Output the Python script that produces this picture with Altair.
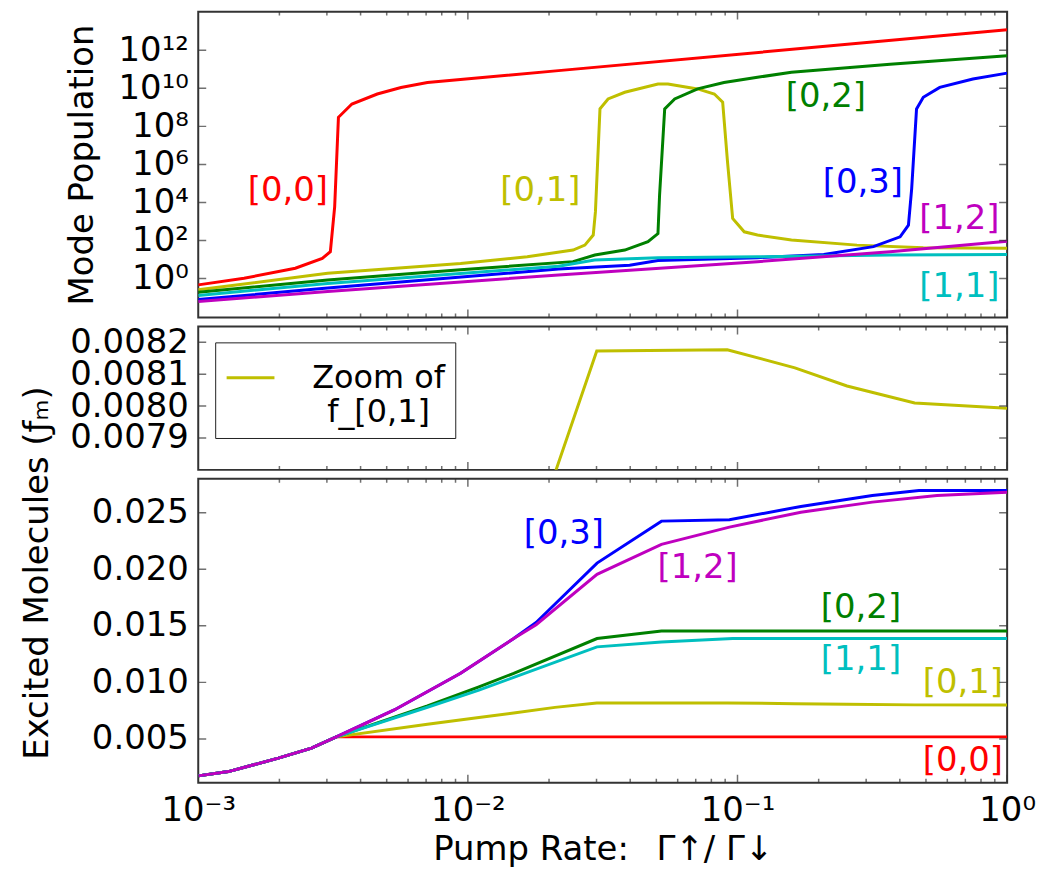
import altair as alt
import pandas as pd

SERIES = ['[0,0]', '[0,1]', '[0,2]', '[0,3]', '[1,1]', '[1,2]']
COLORS = ['#ff0000', '#bfbf00', '#008000', '#0000ff', '#00bfbf', '#bf00bf']

# ---------------- top panel: mode population ----------------
pop00_x = [0.001, 0.001479, 0.002291, 0.002884, 0.00309, 0.003206, 0.003311, 0.003715, 0.004613, 0.005649, 0.007079, 0.02168, 1.0]
pop00_y = [0.47, 1.05, 3.5, 11.5, 26, 5.9e3, 3.0e8, 1.5e9, 5.0e9, 1.1e10, 2.0e10, 8.5e10, 1.2e13]

pop01_x = [0.001, 0.00302, 0.009397, 0.0166, 0.02455, 0.02716, 0.02917, 0.02972, 0.0309, 0.03311, 0.03819, 0.0507,
           0.05521, 0.07112, 0.08204, 0.0881, 0.09183, 0.09594, 0.1059, 0.1186, 0.1585, 0.2773, 0.4887, 1.0]
pop01_y = [0.257, 1.9, 6.3, 14.1, 31.6, 57.5, 195, 3.2e3, 8.3e8, 2.75e9, 6.2e9, 1.7e10,
           1.7e10, 9.3e9, 5.0e9, 1.86e9, 1.35e6, 1.45e3, 288, 195, 107, 57.5, 41.7, 38.9]

pop02_x = [0.001, 0.00302, 0.009397, 0.02455, 0.02958, 0.03819, 0.04656, 0.0507, 0.0514, 0.0537, 0.05848, 0.07112,
           0.0891, 0.1186, 0.1585, 0.3681, 1.0]
pop02_y = [0.19, 0.85, 2.9, 7.8, 17.4, 31.6, 87, 234, 2.4e4, 8.3e8, 2.75e9, 9.3e9,
           2.0e10, 3.8e10, 6.9e10, 1.86e11, 5.1e11]

pop03_x = [0.001, 0.00302, 0.02168, 0.03981, 0.0507, 0.1186, 0.2089, 0.3192, 0.4009, 0.4305, 0.4426, 0.4613,
           0.4887, 0.5623, 0.7464, 1.0]
pop03_y = [0.079, 0.32, 3.2, 5.0, 8.9, 12.6, 18.6, 47.9, 158, 646, 5.4e4, 8.3e8,
           3.4e9, 1.12e10, 3.1e10, 6.3e10]

pop11_x = [0.001, 0.00302, 0.02168, 0.02951, 0.0507, 0.1186, 0.3681, 1.0]
pop11_y = [0.13, 0.56, 4.5, 9.5, 12.6, 14.1, 17.4, 18.6]

pop12_x = [0.001, 0.00302, 0.02168, 0.1186, 0.3681, 1.0]
pop12_y = [0.063, 0.21, 1.55, 7.8, 25.7, 93]

# ---------------- bottom panel: excited molecules ----------------
shared_x = [0.001, 0.001294, 0.001982, 0.00263, 0.003251]
shared_y = [0.00173, 0.00211, 0.0033, 0.00418, 0.00518]

exc00_x = [1.0]
exc00_y = [0.00518]

exc01_x = [0.007079, 0.01099, 0.01479, 0.02104, 0.03006, 0.09162, 0.1633, 0.2547, 0.4539, 1.0]
exc01_y = [0.0063, 0.0069, 0.0073, 0.00779, 0.008173, 0.008177, 0.00812, 0.008063, 0.00801, 0.007993]

exc02_x = [0.007079, 0.01099, 0.01479, 0.03013, 0.05224, 1.0]
exc02_y = [0.00791, 0.00961, 0.0108, 0.01388, 0.01455, 0.01455]

exc03_x = [0.005333, 0.009397, 0.01479, 0.01791, 0.03013, 0.05224, 0.09333, 0.1718, 0.3162, 0.471, 1.0]
exc03_y = [0.00756, 0.0108, 0.01388, 0.0153, 0.02055, 0.02426, 0.02438, 0.02556, 0.02653, 0.02697, 0.02697]

exc11_x = [0.007079, 0.01099, 0.01479, 0.03013, 0.05224, 0.09594, 1.0]
exc11_y = [0.0078, 0.00932, 0.01044, 0.01314, 0.01358, 0.01388, 0.01388]

exc12_x = [0.005333, 0.009397, 0.01479, 0.01791, 0.03013, 0.05224, 0.09333, 0.1718, 0.3162, 0.5495, 1.0]
exc12_y = [0.00756, 0.0108, 0.01388, 0.0151, 0.01956, 0.0222, 0.02373, 0.02505, 0.02594, 0.02653, 0.02682]

# ---------------- annotations ----------------
top_label_x = [0.00215, 0.01858, 0.2128, 0.2917, 0.665, 0.665]
top_label_y = [4.1e4, 4.1e4, 3.4e9, 1.07e5, 1.38e3, 0.34]
top_label_s = ['[0,0]', '[0,1]', '[0,2]', '[0,3]', '[1,2]', '[1,1]']

bot_label_x = [0.0227, 0.0711, 0.287, 0.287, 0.6855, 0.6855]
bot_label_y = [0.02309, 0.02009, 0.0166, 0.01197, 0.00998, 0.003057]
bot_label_s = ['[0,3]', '[1,2]', '[0,2]', '[1,1]', '[0,1]', '[0,0]']

# ---------------- axes ----------------
x_major = [0.001, 0.01, 0.1, 1.0]
x_minor = [2e-3, 3e-3, 4e-3, 5e-3, 6e-3, 7e-3, 8e-3, 9e-3,
           2e-2, 3e-2, 4e-2, 5e-2, 6e-2, 7e-2, 8e-2, 9e-2,
           0.2, 0.3, 0.4, 0.5, 0.6, 0.7, 0.8, 0.9]
top_y_ticks = [1, 1e2, 1e4, 1e6, 1e8, 1e10, 1e12]
mid_y_ticks = [0.0079, 0.0080, 0.0081, 0.0082]
bot_y_ticks = [0.005, 0.010, 0.015, 0.020, 0.025]

W = 812
H_TOP, H_MID, H_BOT = 307, 144, 305
FONT = 'DejaVu Sans'
FS = 34
LW = 3

SUP = str.maketrans('-0123456789', '⁻⁰¹²³⁴⁵⁶⁷⁸⁹')


def pow_label_expr(exps):
    e = "round(log(datum.value)/LN10)"
    parts = [f"{e} == {k} ? '10{str(k).translate(SUP)}'" for k in exps]
    return " : ".join(parts) + " : ''"


def frame(names, xs, ys):
    rows = []
    for n, xv, yv in zip(names, xs, ys):
        for a, b in zip(xv, yv):
            rows.append({'series': n, 'x': a, 'y': b})
    return pd.DataFrame(rows)


xscale = alt.Scale(type='log', domain=[0.001, 1.0], nice=False)
color_scale = alt.Scale(domain=SERIES, range=COLORS)


def panel(layers_spec, xaxis, yscale, yaxis, y_ticks, h):
    out = []
    for ch, xf, yf, extra in layers_spec:
        out.append(ch.encode(x=alt.X(xf, scale=xscale, axis=xaxis),
                             y=alt.Y(yf, scale=yscale, axis=yaxis), **extra))
    # tick marks drawn inside the frame (major and minor on x, major on y)
    xt = pd.DataFrame({'v': x_major + x_minor,
                       'kind': ['major'] * len(x_major) + ['minor'] * len(x_minor)})
    base = alt.Chart(xt).transform_calculate(len="datum.kind == 'major' ? 16 : 8")
    enc = dict(x=alt.X('v:Q', scale=xscale, axis=xaxis),
               size=alt.Size('len:Q', scale=None))
    out.append(base.mark_tick(clip=True, color='#333', thickness=1.5).encode(y=alt.value(h), **enc))
    out.append(base.mark_tick(clip=True, color='#333', thickness=1.5).encode(y=alt.value(0), **enc))
    yt = alt.Chart(pd.DataFrame({'v': y_ticks}))
    yenc = dict(y=alt.Y('v:Q', scale=yscale, axis=yaxis))
    out.append(yt.mark_tick(clip=True, color='#333', thickness=1.5, size=16).encode(x=alt.value(0), **yenc))
    out.append(yt.mark_tick(clip=True, color='#333', thickness=1.5, size=16).encode(x=alt.value(W), **yenc))
    return alt.layer(*out).properties(width=W, height=h)


# ---------------- top panel ----------------
top_df = frame(SERIES, [pop00_x, pop01_x, pop02_x, pop03_x, pop11_x, pop12_x],
               [pop00_y, pop01_y, pop02_y, pop03_y, pop11_y, pop12_y])
top_yscale = alt.Scale(type='log', domain=[0.0091, 1.07e14], nice=False)
top_yaxis = alt.Axis(values=top_y_ticks, labelExpr=pow_label_expr([0, 2, 4, 6, 8, 10, 12]),
                     title='Mode Population', titleX=-116, titleBaseline='middle')
top_lines = alt.Chart(top_df).mark_line(strokeWidth=LW, clip=True)
top_text = alt.Chart(pd.DataFrame({'s': top_label_s, 'x': top_label_x, 'y': top_label_y})).mark_text(
    font=FONT, fontSize=FS, align='center', baseline='middle')
top = panel([
    (top_lines, 'x:Q', 'y:Q', dict(color=alt.Color('series:N', scale=color_scale, legend=None), detail='series:N')),
    (top_text, 'x:Q', 'y:Q', dict(text='s:N', color=alt.Color('s:N', scale=color_scale, legend=None))),
], None, top_yscale, top_yaxis, top_y_ticks, H_TOP)

# ---------------- middle panel ----------------
mid_yscale = alt.Scale(domain=[0.0078, 0.00825], nice=False, zero=False)
mid_yaxis = alt.Axis(values=mid_y_ticks, format='.4f', title=None)
mid_df = pd.DataFrame({'x': shared_x + exc01_x, 'y': shared_y + exc01_y,
                       'name': ['Zoom of f_[0,1]'] * (len(shared_x) + len(exc01_x))})
mid_line = alt.Chart(mid_df).mark_line(strokeWidth=LW, clip=True)
mid_color = alt.Color('name:N', scale=alt.Scale(domain=['Zoom of f_[0,1]'], range=['#bfbf00']),
                      legend=alt.Legend(title=None, orient='none', legendX=17, legendY=16,
                                        strokeColor='#222', fillColor='white', padding=10,
                                        symbolType='stroke', symbolSize=2304, symbolStrokeWidth=3,
                                        labelFontSize=32, labelFont=FONT, labelColor='black',
                                        labelLimit=0, labelOffset=103, labelAlign='center',
                                        labelExpr="['Zoom of', 'f_[0,1]']"))
mid = panel([(mid_line, 'x:Q', 'y:Q', dict(color=mid_color))],
            None, mid_yscale, mid_yaxis, mid_y_ticks, H_MID)

# ---------------- bottom panel ----------------
bot_df = frame(SERIES,
               [shared_x + exc00_x, shared_x + exc01_x, shared_x + exc02_x,
                shared_x + exc03_x, shared_x + exc11_x, shared_x + exc12_x],
               [shared_y + exc00_y, shared_y + exc01_y, shared_y + exc02_y,
                shared_y + exc03_y, shared_y + exc11_y, shared_y + exc12_y])
bot_yscale = alt.Scale(domain=[0.00113, 0.028], nice=False, zero=False)
bot_xaxis = alt.Axis(values=x_major, labelExpr=pow_label_expr([-3, -2, -1, 0]),
                     labelBaseline='alphabetic', labelPadding=38, labelFlush=False,
                     title='Pump Rate:\u2002 Γ↑/ Γ↓', titleY=77, titleBaseline='alphabetic')
bot_yaxis = alt.Axis(values=bot_y_ticks, format='.3f', title='Excited Molecules (ƒₘ)',
                     titleX=-161, titleY=94, titleBaseline='middle')
bot_lines = alt.Chart(bot_df).mark_line(strokeWidth=LW, clip=True)
bot_text = alt.Chart(pd.DataFrame({'s': bot_label_s, 'x': bot_label_x, 'y': bot_label_y})).mark_text(
    font=FONT, fontSize=FS, align='center', baseline='middle')
bot = panel([
    (bot_lines, 'x:Q', 'y:Q', dict(color=alt.Color('series:N', scale=color_scale, legend=None), detail='series:N')),
    (bot_text, 'x:Q', 'y:Q', dict(text='s:N', color=alt.Color('s:N', scale=color_scale, legend=None))),
], bot_xaxis, bot_yscale, bot_yaxis, bot_y_ticks, H_BOT)

chart = alt.vconcat(top, mid, bot, spacing=9, bounds='flush').resolve_scale(color='independent').properties(
    padding={'left': 19, 'top': 9, 'right': 5, 'bottom': 5},
    background='white',
).configure_view(stroke='#333', strokeWidth=2).configure_axis(
    domain=False, ticks=False, grid=False, labelOverlap=False,
    labelFont=FONT, labelFontSize=FS, labelColor='black', labelPadding=10,
    titleFont=FONT, titleFontSize=FS, titleFontWeight='normal', titleColor='black',
)

chart.save('out.html', embed_options={'renderer': 'svg', 'actions': False})
